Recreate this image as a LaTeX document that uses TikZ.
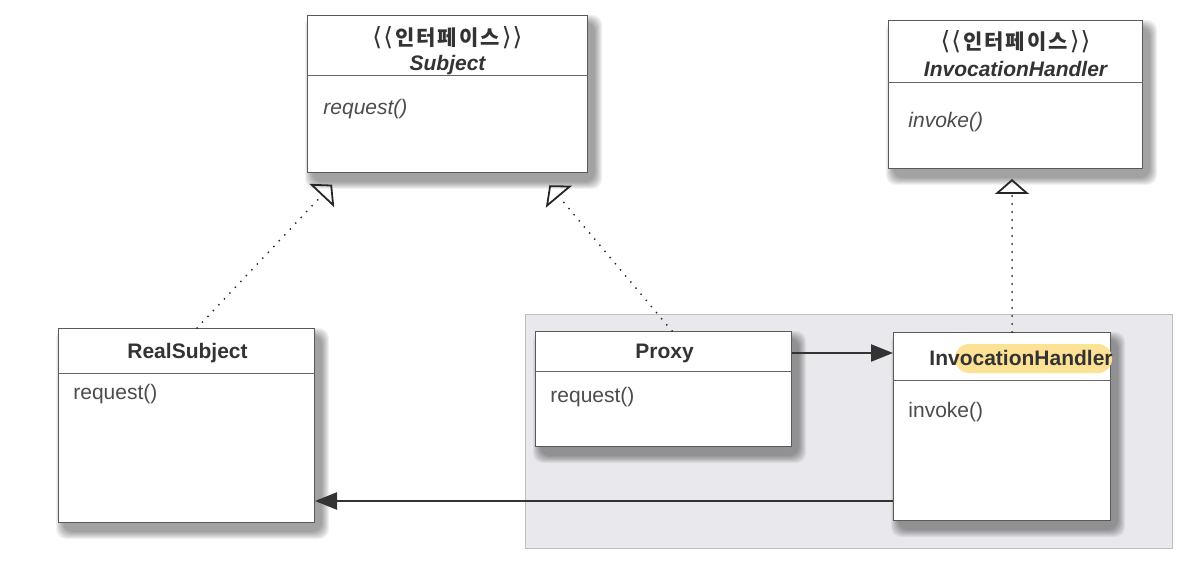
\documentclass[tikz,border=0pt]{standalone}
\usepackage{fontspec}
\setmainfont{Liberation Sans}
\newfontfamily\kor{Noto Sans CJK KR}
\newfontfamily\sym{DejaVu Sans}
\usetikzlibrary{positioning,calc,arrows.meta}
\pgfdeclarelayer{back}
\pgfsetlayers{back,main}
\tikzset{cls/.style={draw=black!65, fill=white, line width=0.5pt, anchor=north west, inner sep=0pt}}
\tikzset{ctitle/.style={inner sep=0pt, align=center, text=black!80, font=\fontsize{10.5}{12.5}\selectfont\bfseries}}
\tikzset{cmeth/.style={anchor=west, inner sep=0pt, text=black!70, font=\fontsize{10.5}{12}\selectfont}}
\tikzset{divide/.style={draw=black!60, line width=0.5pt}}
\tikzset{shade/.style={fill=black, fill opacity=0.055, rounded corners=5pt}}
\tikzset{realize/.style={draw=black!85, line width=1pt, line cap=round, dash pattern=on 0pt off 4pt, -{Triangle[open, length=7.5pt, width=17pt, line width=0.9pt, line cap=butt]}, shorten >=8pt}}
\tikzset{assoc/.style={draw=black!80, line width=1.2pt, -{Triangle[length=11pt, width=8.5pt]}}}
\definecolor{regiongray}{RGB}{233,233,237}
\definecolor{hiliteyellow}{RGB}{253,226,150}
\tikzset{region/.style={fill=regiongray, draw=black!25, line width=0.4pt}}
\tikzset{hilite/.style={fill=hiliteyellow, rounded corners=7pt}}
\newcommand{\ifc}{{\sym\mdseries\fontsize{12.5}{12}\selectfont ⟨\kern0.6pt⟨\kern1pt}{\kor\bfseries 인\kern1pt 터\kern1pt 페\kern1pt 이\kern1pt 스}{\sym\mdseries\fontsize{12.5}{12}\selectfont\kern1pt ⟩\kern0.6pt⟩}}

\begin{document}
\begin{tikzpicture}[x=0.5pt, y=-0.5pt]
   \useasboundingbox (0,0) rectangle (1192,572);

   % Subject
   \node[cls, minimum width=140pt, minimum height=78.5pt] (subj) at (307,15) {};
   \coordinate (subjdiv) at ($(subj.north west)+(0,61)$);
   \draw[divide] (subjdiv) -- (subjdiv -| subj.east);
   \node[ctitle] (subjname) at ($(subj.north)+(0,36)$) {\ifc\\\itshape Subject};
   \node[cmeth, font=\fontsize{10.5}{12}\selectfont\itshape] (subjm) at ($(subjdiv)+(16,33)$) {request()};

   % InvocationHandler interface
   \node[cls, minimum width=127pt, minimum height=74pt] (ihi) at (888,20) {};
   \coordinate (ihidiv) at ($(ihi.north west)+(0,63)$);
   \draw[divide] (ihidiv) -- (ihidiv -| ihi.east);
   \node[ctitle] (ihiname) at ($(ihi.north)+(0,34)$) {\ifc\\[1pt]\itshape InvocationHandler};
   \node[cmeth, font=\fontsize{10.5}{12}\selectfont\itshape] (ihim) at ($(ihidiv)+(20,39)$) {invoke()};

   % RealSubject
   \node[cls, minimum width=128pt, minimum height=97pt] (rsub) at (58,328) {};
   \coordinate (rsubdiv) at ($(rsub.north west)+(0,45)$);
   \draw[divide] (rsubdiv) -- (rsubdiv -| rsub.east);
   \node[ctitle] (rsubname) at ($(rsub.north)+(1,25)$) {RealSubject};
   \node[cmeth] (rsubm) at ($(rsubdiv)+(15,21)$) {request()};

   % Proxy
   \node[cls, minimum width=128pt, minimum height=57.5pt] (proxy) at (535,331) {};
   \coordinate (proxydiv) at ($(proxy.north west)+(0,40)$);
   \draw[divide] (proxydiv) -- (proxydiv -| proxy.east);
   \node[ctitle] (proxyname) at ($(proxy.north)+(1,22)$) {Proxy};
   \node[cmeth] (proxym) at ($(proxydiv)+(15,26)$) {request()};

   % InvocationHandler
   \node[cls, minimum width=108.5pt, minimum height=94pt] (ih) at (893,332) {};
   \coordinate (ihdiv) at ($(ih.north west)+(0,48)$);
   \draw[divide] (ihdiv) -- (ihdiv -| ih.east);
   \fill[hilite] (955,344) rectangle (1112,373);
   \node[ctitle] (ihname) at ($(ih.north)+(19,26)$) {InvocationHandler};
   \node[cmeth] (ihm) at ($(ihdiv)+(15,32)$) {invoke()};

   % gray group and soft shadows, behind the boxes
   \begin{pgfonlayer}{back}
      \filldraw[region] (525,314) rectangle (1172,548);
      \foreach \b in {subj,ihi,rsub,proxy,ih}
         \foreach \r [evaluate=\r as \e using 3*\r-9] in {1,...,8}
            \fill[shade] ($(\b.north west)+(6-\e,8-\e)$) rectangle ($(\b.south east)+(6+\e,8+\e)$);
   \end{pgfonlayer}

   % connectors
   \draw[realize] ($(rsub.north west)+(139,0)$) -- ($(subj.south west)+(36,0)$);
   \draw[realize] ($(proxy.north west)+(137,0)$) -- ($(subj.south west)+(232,0)$);
   \draw[realize, shorten >=5pt] ($(ih.north west)+(119,0)$) -- ($(ihi.south west)+(124,0)$);
   \draw[assoc] (proxy.east |- proxyname) -- (ih.west |- proxyname);
   \coordinate (back) at ($(ih.south west)+(0,-20)$);
   \draw[assoc] (back) -- (back -| rsub.east);
\end{tikzpicture}
\end{document}
